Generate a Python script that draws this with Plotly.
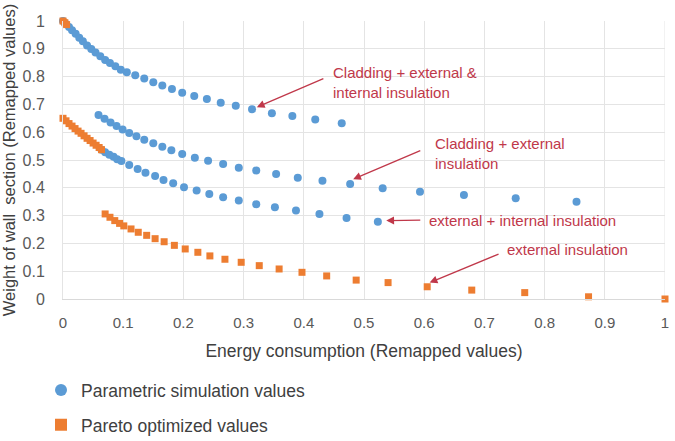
import plotly.graph_objects as go

# ---- data ----
# Parametric simulation values (three blue branches)
blue_a_x = [0.000, 0.005, 0.010, 0.015, 0.021, 0.027, 0.033, 0.040, 0.047, 0.054, 0.062, 0.070, 0.078,
            0.087, 0.096, 0.106, 0.120, 0.135, 0.150, 0.165, 0.181, 0.198, 0.218, 0.239, 0.262,
            0.287, 0.314, 0.347, 0.381, 0.419, 0.463]
blue_a_y = [1.000, 0.989, 0.978, 0.967, 0.954, 0.940, 0.927, 0.912, 0.899, 0.887, 0.873, 0.860, 0.849,
            0.837, 0.825, 0.816, 0.805, 0.793, 0.780, 0.768, 0.755, 0.742, 0.730, 0.719, 0.706,
            0.695, 0.683, 0.668, 0.658, 0.646, 0.632]

blue_b_x = [0.059, 0.069, 0.079, 0.089, 0.099, 0.110, 0.122, 0.135, 0.150, 0.165, 0.180, 0.198, 0.219,
            0.241, 0.266, 0.292, 0.321, 0.354, 0.390, 0.431, 0.477, 0.531, 0.593, 0.666, 0.752, 0.853]
blue_b_y = [0.662, 0.648, 0.635, 0.622, 0.610, 0.597, 0.585, 0.573, 0.560, 0.548, 0.535, 0.522, 0.508,
            0.497, 0.486, 0.472, 0.462, 0.450, 0.436, 0.425, 0.414, 0.398, 0.386, 0.374, 0.362, 0.350]

blue_c_x = [0.064, 0.070, 0.077, 0.084, 0.090, 0.097, 0.110, 0.124, 0.137, 0.153, 0.167, 0.183, 0.201,
            0.222, 0.243, 0.266, 0.292, 0.321, 0.352, 0.387, 0.426, 0.471, 0.523]
blue_c_y = [0.537, 0.528, 0.519, 0.512, 0.503, 0.496, 0.482, 0.468, 0.454, 0.442, 0.428, 0.416, 0.402,
            0.390, 0.378, 0.366, 0.354, 0.341, 0.330, 0.318, 0.306, 0.291, 0.278]

# Pareto optimized values (orange)
orange_top_x = [0.000, 0.003, 0.006]
orange_top_y = [1.000, 0.994, 0.987]

orange_c_x = [0.000, 0.005, 0.010, 0.015, 0.020, 0.025, 0.030, 0.035, 0.040, 0.045, 0.050, 0.055,
              0.060, 0.064]
orange_c_y = [0.650, 0.641, 0.631, 0.622, 0.613, 0.604, 0.596, 0.587, 0.578, 0.570, 0.561, 0.553,
              0.545, 0.537]

orange_d_x = [0.070, 0.078, 0.086, 0.094, 0.101, 0.113, 0.125, 0.139, 0.153, 0.168, 0.185, 0.203,
              0.224, 0.244, 0.269, 0.296, 0.326, 0.359, 0.397, 0.438, 0.487, 0.540, 0.605, 0.679,
              0.767, 0.873, 1.000]
orange_d_y = [0.306, 0.294, 0.282, 0.272, 0.263, 0.252, 0.240, 0.229, 0.217, 0.206, 0.193, 0.180,
              0.168, 0.155, 0.143, 0.132, 0.120, 0.108, 0.096, 0.083, 0.068, 0.059, 0.044, 0.032,
              0.023, 0.008, 0.000]

x_ticks = [0, 0.1, 0.2, 0.3, 0.4, 0.5, 0.6, 0.7, 0.8, 0.9, 1]
x_tick_labels = ["0", "0.1", "0.2", "0.3", "0.4", "0.5", "0.6", "0.7", "0.8", "0.9", "1"]
y_ticks = [0, 0.1, 0.2, 0.3, 0.4, 0.5, 0.6, 0.7, 0.8, 0.9, 1]
y_tick_labels = ["0", "0.1", "0.2", "0.3", "0.4", "0.5", "0.6", "0.7", "0.8", "0.9", "1"]

legend_names = ["Parametric simulation values", "Pareto optimized values"]

labels = ["Cladding + external &<br>internal insulation",
          "Cladding + external<br>insulation",
          "external + internal insulation",
          "external insulation"]
label_pos = [(0.445, 0.780), (0.614, 0.525), (0.604, 0.284), (0.734, 0.179)]
arrow_tail = [(0.435, 0.795), (0.596, 0.536), (0.596, 0.284), (0.726, 0.164)]
arrow_head = [(0.322, 0.690), (0.482, 0.431), (0.537, 0.282), (0.609, 0.059)]

BLUE = "#5B9BD5"
ORANGE = "#ED7D31"
RED = "#C0384A"
FONT = "Liberation Sans, Arial"

fig = go.Figure()
blue_x = blue_a_x + [None] + blue_b_x + [None] + blue_c_x
blue_y = blue_a_y + [None] + blue_b_y + [None] + blue_c_y
fig.add_trace(go.Scatter(x=blue_x, y=blue_y, mode="markers", name=legend_names[0],
                         marker=dict(color=BLUE, size=8, symbol="circle"),
                         legendgroup="a", cliponaxis=False))
orange_x = orange_top_x + [None] + orange_c_x + [None] + orange_d_x
orange_y = orange_top_y + [None] + orange_c_y + [None] + orange_d_y
fig.add_trace(go.Scatter(x=orange_x, y=orange_y, mode="markers", name=legend_names[1],
                         marker=dict(color=ORANGE, size=7, symbol="square"),
                         legendgroup="b", cliponaxis=False))

for txt, (tx, ty) in zip(labels, label_pos):
    fig.add_annotation(x=tx, y=ty, xref="x", yref="y", text=txt, showarrow=False,
                       xanchor="left", yanchor="middle", align="left",
                       font=dict(family=FONT, size=15, color=RED))
for (hx, hy), (tx, ty) in zip(arrow_head, arrow_tail):
    fig.add_annotation(x=hx, y=hy, ax=tx, ay=ty, xref="x", yref="y", axref="x", ayref="y",
                       text="", showarrow=True, arrowhead=2, arrowsize=1.2, arrowwidth=1.3,
                       arrowcolor=RED)

fig.update_xaxes(range=[0, 1], tickvals=x_ticks, ticktext=x_tick_labels, showgrid=True,
                 gridcolor="#E4E4E4", gridwidth=1, zeroline=False, showline=True,
                 linecolor="#D9D9D9", linewidth=1,
                 tickfont=dict(family=FONT, size=15, color="#595959"), ticklabelstandoff=10,
                 title=dict(text="Energy consumption (Remapped values)",
                            font=dict(family=FONT, size=17.5, color="#404040"),
                            standoff=14))
fig.update_yaxes(range=[0, 1], tickvals=y_ticks, ticktext=y_tick_labels, showgrid=True,
                 gridcolor="#E4E4E4", gridwidth=1, zeroline=False, showline=True,
                 linecolor="#E4E4E4",
                 tickfont=dict(family=FONT, size=16, color="#595959"), ticklabelstandoff=14,
                 title=dict(text="Weight of wall  section (Remapped values)",
                            font=dict(family=FONT, size=16.5, color="#404040"),
                            standoff=7))
fig.add_shape(type="line", xref="x", yref="y", x0=1, x1=1, y0=0, y1=1,
              line=dict(color="#E4E4E4", width=1), layer="below")

fig.update_layout(
    width=675, height=441,
    margin=dict(l=63, r=10, t=21, b=142, autoexpand=False),
    plot_bgcolor="white", paper_bgcolor="white",
    showlegend=True,
    legend=dict(x=-0.0365, y=-0.263, xanchor="left", yanchor="top", orientation="v",
                tracegroupgap=9, itemsizing="constant", bgcolor="rgba(0,0,0,0)",
                font=dict(family=FONT, size=17.5, color="#404040")),
)

fig.write_html("out.html")
